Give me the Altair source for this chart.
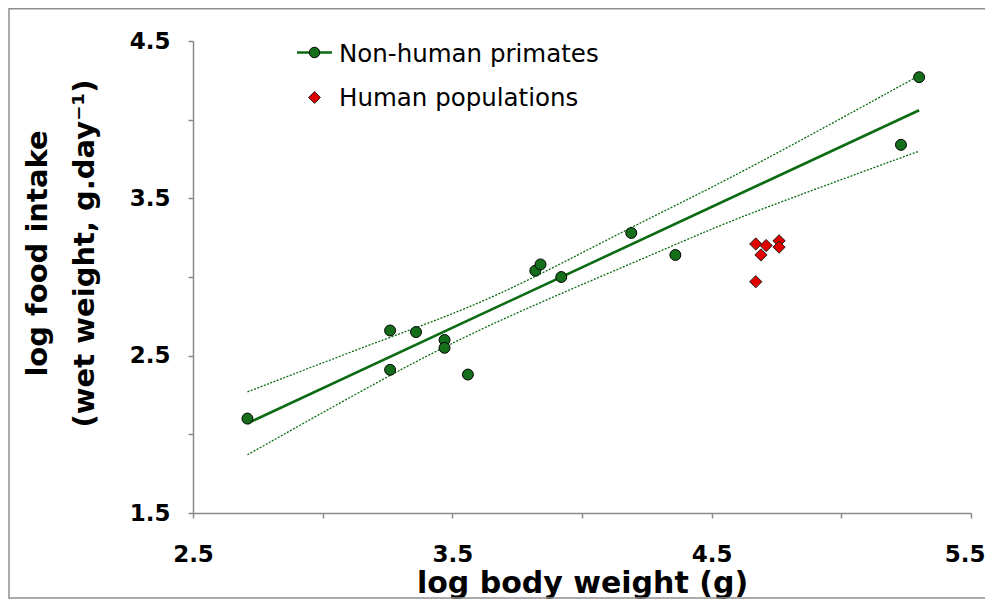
import altair as alt
import pandas as pd

# ---- data ----
primate_x = [2.71, 3.26, 3.26, 3.36, 3.47, 3.47, 3.56, 3.82, 3.84, 3.92, 4.19, 4.36, 5.23, 5.30]
primate_y = [2.10, 2.66, 2.41, 2.65, 2.60, 2.55, 2.38, 3.04, 3.08, 3.00, 3.28, 3.14, 3.84, 4.27]
human_x = [4.67, 4.71, 4.76, 4.76, 4.69, 4.67]
human_y = [3.21, 3.20, 3.23, 3.19, 3.14, 2.97]
fit_x = [2.71, 5.30]
fit_y = [2.07, 4.06]
upper_x = [2.71, 3.26, 3.65, 4.19, 4.57, 5.30]
upper_y = [2.27, 2.62, 2.85, 3.32, 3.62, 4.28]
lower_x = [2.71, 3.26, 3.65, 4.37, 4.57, 5.30]
lower_y = [1.87, 2.38, 2.71, 3.21, 3.36, 3.80]
x_ticks = [2.5, 3.0, 3.5, 4.0, 4.5, 5.0, 5.5]
y_ticks = [1.5, 2.0, 2.5, 3.0, 3.5, 4.0, 4.5]
legend_labels = ["Non-human primates", "Human populations"]
x_title = "log body weight (g)"
y_title = ["log food intake", "(wet weight, g.day\u207b\u00b9)"]

GREEN = "#0b6b12"
PT_GREEN = "#146e1a"
RED = "#e00000"
GRAY = "#8a8a8a"
FONT = "DejaVu Sans"

prim = pd.DataFrame({"x": primate_x, "y": primate_y})
hum = pd.DataFrame({"x": human_x, "y": human_y})
fit = pd.DataFrame({"x": fit_x, "y": fit_y})
up = pd.DataFrame({"x": upper_x, "y": upper_y, "band": "upper"})
lo = pd.DataFrame({"x": lower_x, "y": lower_y, "band": "lower"})
ci = pd.concat([up, lo], ignore_index=True)
dummy = pd.DataFrame({"a": [0]})

label_expr = "(datum.value * 2) % 2 == 1 ? format(datum.value, '.1f') : ''"
last_x = "datum.value == 5.5"

xenc = alt.X(
    "x:Q",
    scale=alt.Scale(domain=[2.5, 5.5], nice=False, zero=False),
    axis=alt.Axis(
        values=x_ticks, labelExpr=label_expr, title=x_title,
        grid=False, tickSize=5, tickColor=GRAY, domainColor=GRAY,
        domainWidth=1.5, tickWidth=1.5,
        labelFont=FONT, labelFontWeight="bold", labelFontSize=23, labelColor="black",
        labelPadding=25, labelFlush=False,
        labelAlign={"condition": {"test": last_x, "value": "right"}, "value": "center"},
        labelOffset={"condition": {"test": last_x, "value": 14}, "value": 0},
        titleFont=FONT, titleFontWeight="bold", titleFontSize=30, titleColor="black",
        titleY=79, titleBaseline="alphabetic",
    ),
)
yenc = alt.Y(
    "y:Q",
    scale=alt.Scale(domain=[1.5, 4.5], nice=False, zero=False),
    axis=alt.Axis(
        values=y_ticks, labelExpr=label_expr, title=y_title,
        grid=False, tickSize=5, tickColor=GRAY, domainColor=GRAY,
        domainWidth=1.5, tickWidth=1.5,
        labelFont=FONT, labelFontWeight="bold", labelFontSize=23, labelColor="black",
        labelPadding=18, labelFlush=False,
        titleFont=FONT, titleFontWeight="bold", titleFontSize=29, titleColor="black",
        titleX=-156, titleY=212, titleBaseline="middle", titleAlign="center",
        titleAngle=270, titleLineHeight=47,
    ),
)

ci_lines = alt.Chart(ci).mark_line(
    color=GREEN, strokeWidth=1.3, strokeDash=[2, 1.5], interpolate="basis"
).encode(x=xenc, y=yenc, detail="band:N")

fit_line = alt.Chart(fit).mark_line(color=GREEN, strokeWidth=2.6).encode(x=xenc, y=yenc)

prim_pts = alt.Chart(prim).mark_circle(
    size=120, color=PT_GREEN, opacity=1, stroke="black", strokeWidth=1
).encode(x=xenc, y=yenc)

hum_pts = alt.Chart(hum).mark_point(
    shape="diamond", filled=True, size=150, fill=RED, opacity=1,
    stroke="#222222", strokeWidth=1
).encode(x=xenc, y=yenc)

# legend (drawn by hand, top-left inside plot)
leg_line = alt.Chart(dummy).mark_rule(color=GREEN, strokeWidth=2.6).encode(
    x=alt.value(104), x2=alt.value(139), y=alt.value(11.5)
)
leg_circle = alt.Chart(dummy).mark_circle(
    size=110, color=PT_GREEN, opacity=1, stroke="black", strokeWidth=1
).encode(x=alt.value(121.5), y=alt.value(11.5))
leg_diamond = alt.Chart(dummy).mark_point(
    shape="diamond", filled=True, size=140, fill=RED, opacity=1,
    stroke="#222222", strokeWidth=1
).encode(x=alt.value(121.5), y=alt.value(56.5))
leg_text1 = alt.Chart(dummy).mark_text(
    align="left", baseline="alphabetic", font=FONT, fontSize=24.5, color="black"
).encode(x=alt.value(146), y=alt.value(20.5), text=alt.value(legend_labels[0]))
leg_text2 = alt.Chart(dummy).mark_text(
    align="left", baseline="alphabetic", font=FONT, fontSize=24.5, color="black"
).encode(x=alt.value(146), y=alt.value(65), text=alt.value(legend_labels[1]))

# outer frame of the figure (right side runs off the page as in the reference)
frame = alt.Chart(dummy).mark_rect(
    fillOpacity=0, stroke="#8f8f8f", strokeWidth=1.5
).encode(x=alt.value(-184), x2=alt.value(830), y=alt.value(-32.2), y2=alt.value(557))

chart = alt.layer(
    frame, ci_lines, fit_line, prim_pts, hum_pts,
    leg_line, leg_circle, leg_diamond, leg_text1, leg_text2,
).properties(
    width=778, height=472,
    autosize=alt.AutoSizeParams(type="none"),
    padding={"left": 185, "top": 33, "right": 14, "bottom": 87},
    background="white",
).configure_view(stroke=None)

chart.save("out.html", embed_options={"renderer": "svg", "actions": False})
